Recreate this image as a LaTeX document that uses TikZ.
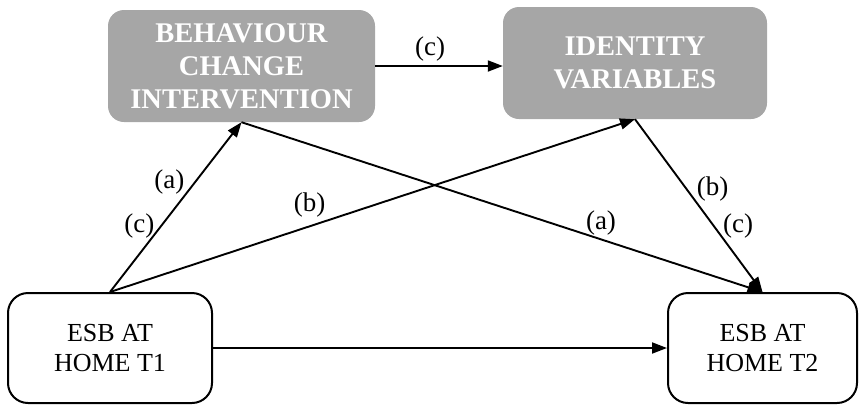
\documentclass[tikz,border=0pt]{standalone}
\usepackage{fontspec}
\setmainfont{Liberation Serif}
\usetikzlibrary{arrows.meta}
\definecolor{boxgray}{HTML}{A6A6A6}
\begin{document}
\begin{tikzpicture}[x=1pt,y=-1pt,
  graybox/.style={draw=none, fill=boxgray, rounded corners=16pt, align=center,
    text=white, font=\fontsize{28.5}{33}\selectfont\bfseries, inner sep=0pt},
  whitebox/.style={draw=black, line width=2pt, fill=white, rounded corners=20pt,
    align=center, font=\fontsize{26}{30}\selectfont, inner sep=0pt},
  link/.style={line width=1.9pt, -{Triangle[length=15pt,width=11pt]}},
  lab/.style={font=\fontsize{27}{30}\selectfont, inner sep=0pt}]
\useasboundingbox (0,0) rectangle (859,405);

% variables
\node[graybox, minimum width=267pt, minimum height=112pt] (bci) at (241.5,66)
  {BEHAVIOUR\\CHANGE\\INTERVENTION};
\node[graybox, minimum width=264pt, minimum height=112pt] (iv) at (635,63)
  {IDENTITY\\VARIABLES};
\node[whitebox, minimum width=204pt, minimum height=110pt] (t1) at (110,348)
  {ESB AT\\HOME T1};
\node[whitebox, minimum width=189pt, minimum height=110pt] (t2) at (762.5,348)
  {ESB AT\\HOME T2};

% paths
\draw[link] (bci.east) -- node[lab, pos=0.43, yshift=17pt] (lc1) {(c)} (bci.east -| iv.west);
\draw[link] (t1.north) -- node[lab, pos=0.65, xshift=-26pt] (la1) {(a)}
                          node[lab, pos=0.39, xshift=-22pt] (lc2) {(c)} (bci.south);
\draw[link] (t1.north) -- node[lab, pos=0.38, yshift=21pt] (lb1) {(b)} (iv.south);
\draw[link] (bci.south) -- node[lab, pos=0.69, yshift=16pt] (la2) {(a)} (t2.north);
\draw[link] (iv.south) -- node[lab, pos=0.405, xshift=26pt] (lb2) {(b)}
                          node[lab, pos=0.62, xshift=24pt] (lc3) {(c)} (t2.north);
\draw[link] (t1.east) -- (t2.west);
\end{tikzpicture}
\end{document}
